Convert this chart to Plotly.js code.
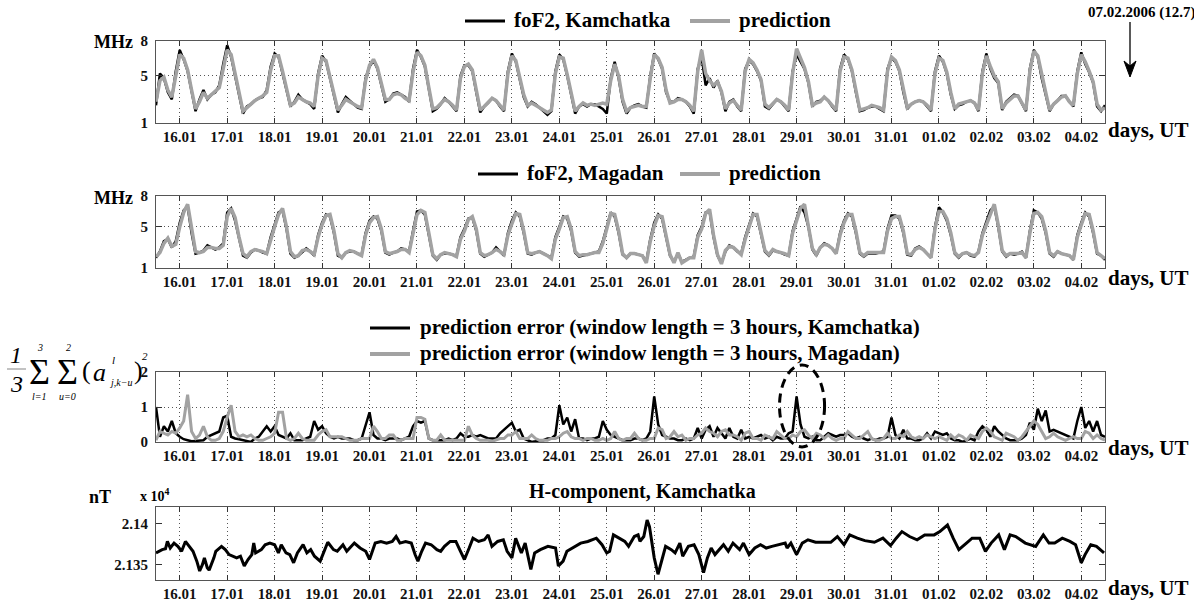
<!DOCTYPE html>
<html>
<head>
<meta charset="utf-8">
<script src="https://cdn.plot.ly/plotly-3.0.1.min.js"></script>
<style>html,body{margin:0;padding:0;background:#fff;}#chart{width:1194px;height:608px;}</style>
</head>
<body>
<div id="chart"></div>
<script>
// ---------- DATA ----------
const dayLabels = ['16.01','17.01','18.01','19.01','20.01','21.01','22.01','23.01','24.01','25.01',
                   '26.01','27.01','28.01','29.01','30.01','31.01','01.02','02.02','03.02','04.02'];
// time axis: days since 16.01 00:00 UT; all series start at 15.01 12:00 UT, 2-hour samples
const startDay = -0.5;

// foF2 Kamchatka, MHz
const kamFoF2 = [2.5,5.2,4.8,3.6,3.0,5.4,
 7.2,6.4,5.4,3.6,2.0,3.0,3.8,3.0,3.4,3.6,4.2,6.0,
 7.6,6.6,5.0,3.6,1.8,2.4,2.6,2.9,3.1,3.2,3.8,5.8,
 6.9,6.6,5.2,3.8,2.4,2.8,3.4,3.0,2.8,2.6,2.2,5.2,
 6.7,6.2,4.8,3.2,1.9,2.6,3.2,2.9,2.6,2.3,2.2,4.8,
 5.8,6.3,5.6,4.2,2.8,3.0,3.5,3.6,3.4,3.2,2.8,5.6,
 7.2,6.6,5.8,3.8,2.0,2.2,2.6,3.1,2.8,2.4,2.0,5.0,
 5.9,5.9,5.4,3.6,1.9,2.4,2.7,3.1,2.9,2.4,2.0,5.4,
 6.9,6.2,4.8,3.2,2.4,2.8,2.6,2.3,2.0,1.7,2.0,5.4,
 6.8,6.4,5.0,3.4,1.8,2.4,2.6,2.4,2.6,2.6,2.4,2.2,
 1.8,4.8,6.2,4.8,2.8,1.8,2.3,2.5,2.6,2.4,2.3,5.0,
 6.9,6.4,5.6,3.6,2.8,2.8,3.1,3.0,2.8,2.4,1.8,5.6,
 6.6,4.2,4.8,4.0,4.6,3.6,2.0,2.8,3.0,2.4,2.0,5.6,
 6.3,6.0,5.4,4.6,2.4,2.2,2.6,3.0,2.8,2.4,2.0,5.4,
 6.8,6.2,5.6,4.4,2.4,2.8,2.9,3.2,2.9,2.4,2.0,5.6,
 6.8,6.4,5.4,3.6,2.0,2.1,2.3,2.4,2.4,2.2,2.0,5.6,
 6.5,6.2,5.4,3.6,2.2,2.6,2.8,2.9,2.8,2.4,2.0,5.4,
 6.7,6.2,5.2,3.4,2.2,2.5,2.6,2.8,2.9,2.7,2.0,5.4,
 6.9,5.6,4.8,4.4,2.1,2.8,3.1,3.4,3.3,2.6,2.0,5.6,
 7.2,6.6,4.8,3.4,2.0,2.6,2.9,3.3,3.3,2.8,2.4,5.4,
 7.0,6.0,5.3,4.4,2.4,2.0,2.5];
// prediction for Kamchatka, MHz
const kamPred = [2.8,4.6,4.9,3.8,3.2,5.0,
 6.8,6.5,5.5,3.8,2.2,2.8,3.6,3.1,3.4,3.7,4.0,5.6,
 7.2,6.8,5.2,3.8,2.0,2.3,2.6,2.9,3.1,3.3,3.6,5.5,
 6.7,6.7,5.4,3.9,2.5,2.7,3.2,3.0,2.8,2.7,2.4,5.0,
 6.5,6.3,5.0,3.4,2.1,2.5,3.0,2.8,2.6,2.4,2.3,4.6,
 5.9,6.4,5.7,4.4,3.0,3.0,3.4,3.5,3.4,3.1,2.9,5.3,
 7.0,6.7,5.9,4.0,2.2,2.3,2.7,3.0,2.8,2.5,2.1,4.8,
 5.8,6.0,5.5,3.8,2.1,2.4,2.7,3.1,2.9,2.5,2.1,5.2,
 6.7,6.3,5.0,3.4,2.5,2.7,2.5,2.3,2.1,1.9,2.1,5.2,
 6.6,6.5,5.1,3.6,2.0,2.4,2.7,2.5,2.6,2.5,2.6,2.7,
 2.6,4.6,6.0,5.0,3.0,2.0,2.3,2.4,2.5,2.4,2.4,4.8,
 6.8,6.5,5.7,3.8,2.7,2.8,3.0,3.0,2.8,2.5,2.0,5.4,
 7.2,5.2,4.6,4.2,4.5,3.7,2.2,2.7,2.9,2.5,2.1,5.4,
 6.4,6.1,5.5,4.7,2.6,2.3,2.6,3.0,2.8,2.5,2.1,5.2,
 7.3,6.4,5.7,4.5,2.5,2.7,2.8,3.2,2.9,2.5,2.1,5.4,
 6.6,6.5,5.5,3.8,2.1,2.2,2.3,2.5,2.4,2.3,2.1,5.4,
 6.6,6.3,5.5,3.7,2.3,2.6,2.8,2.9,2.8,2.5,2.1,5.2,
 6.5,6.3,5.3,3.6,2.2,2.6,2.7,2.8,2.9,2.7,2.1,5.2,
 6.7,5.8,5.0,4.5,2.2,2.7,3.0,3.3,3.3,2.7,2.1,5.4,
 7.1,6.7,5.0,3.6,2.1,2.6,2.9,3.2,3.3,2.8,2.5,5.2,
 6.8,6.2,5.4,4.5,2.6,2.1,2.3];
// foF2 Magadan, MHz
const magFoF2 = [2.0,2.6,3.6,3.8,3.0,3.6,
 5.4,6.6,7.0,4.4,2.4,2.5,2.7,3.2,3.0,2.8,3.0,3.4,
 6.4,6.8,5.6,3.8,2.2,2.0,2.5,2.8,2.7,2.5,2.4,4.0,
 5.2,6.4,6.6,4.8,2.4,2.0,2.2,2.6,2.9,2.6,2.2,4.2,
 5.4,6.2,6.0,4.4,2.2,2.0,2.5,2.6,2.6,2.4,2.3,4.4,
 5.6,6.0,5.8,4.6,2.5,2.3,2.5,2.6,2.9,2.8,2.6,4.6,
 6.5,6.6,6.2,4.2,2.2,1.8,2.3,2.4,2.4,2.3,2.2,4.0,
 4.8,5.8,5.9,4.6,2.4,2.1,2.3,2.5,3.0,2.6,2.2,4.4,
 5.6,6.4,6.0,4.4,2.4,2.3,2.5,2.6,2.4,2.2,2.0,4.0,
 5.0,6.0,5.8,4.6,2.5,2.1,2.2,2.3,2.4,2.5,2.6,3.6,
 5.0,6.4,6.0,4.4,2.3,2.0,2.4,2.4,2.3,2.2,1.6,3.8,
 5.4,6.2,5.8,4.0,2.2,1.6,2.4,1.6,1.8,2.0,2.1,4.2,
 5.0,6.4,6.5,4.0,2.2,1.5,2.6,3.2,3.0,2.6,2.4,4.0,
 5.2,6.3,6.0,4.4,2.6,2.2,2.7,2.6,2.5,2.3,2.2,4.6,
 5.8,7.0,6.4,5.0,2.8,2.2,3.0,3.4,3.2,2.9,2.4,4.4,
 5.6,6.3,6.0,4.4,2.4,2.1,2.4,2.4,2.4,2.5,2.6,4.8,
 6.1,6.1,5.8,4.4,2.3,2.2,2.9,3.1,2.8,2.4,2.0,5.0,
 6.9,6.4,5.6,4.2,2.4,2.0,2.4,2.5,2.2,2.1,2.6,4.4,
 5.4,6.6,7.0,5.0,2.6,2.1,2.4,2.3,2.4,2.6,2.0,4.6,
 6.6,6.4,5.8,4.4,2.4,2.1,2.6,2.4,2.3,2.2,1.8,4.2,
 5.4,6.4,6.0,4.4,2.4,2.2,1.8];
// prediction for Magadan, MHz
const magPred = [2.1,2.5,3.4,3.9,3.1,3.3,
 5.0,6.4,7.2,4.8,2.6,2.5,2.6,3.0,3.0,2.9,2.9,3.2,
 6.0,6.8,5.9,4.0,2.4,2.1,2.6,2.8,2.7,2.6,2.4,3.8,
 5.0,6.2,6.8,5.0,2.6,2.1,2.2,2.7,2.8,2.6,2.3,4.0,
 5.2,6.1,6.2,4.6,2.4,2.0,2.5,2.7,2.6,2.4,2.2,4.2,
 5.4,5.9,6.0,4.8,2.6,2.4,2.5,2.6,2.8,2.8,2.5,4.4,
 6.2,6.6,6.4,4.4,2.3,1.9,2.3,2.5,2.4,2.3,2.1,3.8,
 4.6,5.7,6.0,4.8,2.5,2.2,2.3,2.5,2.8,2.6,2.3,4.2,
 5.3,6.3,6.2,4.6,2.5,2.4,2.5,2.6,2.4,2.2,1.9,3.8,
 4.8,5.9,6.0,4.8,2.6,2.2,2.3,2.3,2.4,2.5,2.5,3.4,
 4.8,6.3,6.2,4.6,2.4,2.0,2.4,2.4,2.3,2.2,1.5,3.6,
 5.1,6.1,6.0,4.2,2.3,1.5,2.5,1.5,1.8,2.0,2.0,4.0,
 4.8,6.3,6.7,4.2,2.3,1.4,2.7,3.1,3.0,2.6,2.3,3.8,
 5.0,6.2,6.2,4.6,2.7,2.3,2.8,2.6,2.5,2.4,2.2,4.4,
 5.6,6.8,7.2,5.2,2.9,2.3,3.0,3.3,3.2,2.9,2.4,4.2,
 5.4,6.2,6.2,4.6,2.5,2.2,2.5,2.5,2.5,2.5,2.5,4.6,
 5.8,6.0,6.0,4.6,2.4,2.3,2.8,3.0,2.8,2.4,2.0,4.8,
 6.5,6.5,5.8,4.4,2.5,2.1,2.4,2.5,2.3,2.2,2.5,4.2,
 5.2,6.4,7.2,5.2,2.7,2.2,2.4,2.4,2.4,2.5,2.0,4.4,
 6.3,6.4,6.0,4.6,2.5,2.2,2.6,2.4,2.3,2.2,1.8,4.0,
 5.2,6.3,6.2,4.6,2.5,2.2,1.9];

// prediction error (window length = 3 hours)
const kamErr = [1.0,0.15,0.45,0.3,0.6,0.25,
 0.15,0.08,0.05,0.02,0.03,0.05,0.05,0.15,0.2,0.25,0.3,0.7,
 0.75,0.15,0.1,0.08,0.05,0.02,0.0,0.1,0.15,0.3,0.45,0.3,
 0.45,0.2,0.15,0.1,0.25,0.05,0.05,0.05,0.1,0.15,0.6,0.35,
 0.45,0.25,0.15,0.1,0.15,0.1,0.1,0.1,0.05,0.05,0.1,0.5,
 0.85,0.2,0.1,0.1,0.05,0.1,0.1,0.1,0.05,0.1,0.15,0.45,
 0.6,0.55,0.6,0.1,0.05,0.05,0.05,0.05,0.1,0.05,0.1,0.25,
 0.15,0.15,0.2,0.15,0.2,0.15,0.1,0.1,0.1,0.25,0.35,0.45,
 0.55,0.3,0.35,0.1,0.05,0.0,0.02,0.05,0.05,0.1,0.1,0.2,
 1.05,0.5,0.7,0.3,0.65,0.1,0.1,0.05,0.1,0.1,0.15,0.6,
 0.35,0.2,0.15,0.1,0.05,0.05,0.05,0.1,0.1,0.05,0.1,0.3,
 1.3,0.5,0.2,0.15,0.1,0.1,0.05,0.05,0.1,0.05,0.1,0.4,
 0.1,0.35,0.45,0.15,0.4,0.25,0.1,0.4,0.15,0.1,0.35,0.1,
 0.15,0.1,0.15,0.2,0.1,0.15,0.05,0.15,0.1,0.1,0.25,0.3,
 1.3,0.5,0.15,0.1,0.15,0.05,0.05,0.15,0.25,0.2,0.15,0.2,
 0.2,0.25,0.15,0.1,0.15,0.1,0.05,0.1,0.05,0.1,0.1,0.15,
 0.7,0.2,0.1,0.35,0.1,0.1,0.05,0.05,0.1,0.25,0.1,0.3,
 0.25,0.2,0.25,0.1,0.05,0.05,0.0,0.05,0.1,0.05,0.3,0.45,
 0.35,0.15,0.45,0.3,0.2,0.1,0.05,0.05,0.05,0.1,0.2,0.55,
 0.35,0.95,0.6,0.9,0.3,0.35,0.3,0.25,0.2,0.15,0.1,0.6,
 1.0,0.4,0.6,0.3,0.6,0.2,0.15];
const magErr = [0.05,0.3,0.25,0.2,0.3,0.25,
 0.4,0.6,1.35,0.3,0.1,0.2,0.45,0.15,0.05,0.05,0.1,0.3,
 0.7,1.05,0.3,0.15,0.2,0.15,0.2,0.1,0.05,0.05,0.1,0.15,
 0.25,0.85,0.85,0.1,0.05,0.1,0.25,0.1,0.05,0.05,0.05,0.2,
 0.3,0.35,0.15,0.15,0.15,0.15,0.1,0.05,0.05,0.05,0.1,0.1,
 0.1,0.45,0.3,0.1,0.1,0.2,0.2,0.05,0.05,0.1,0.1,0.1,
 0.7,0.7,0.65,0.1,0.05,0.05,0.2,0.05,0.05,0.05,0.05,0.05,
 0.05,0.45,0.2,0.1,0.05,0.05,0.05,0.02,0.05,0.1,0.1,0.2,
 0.2,0.3,0.1,0.1,0.1,0.2,0.1,0.05,0.05,0.05,0.1,0.1,
 0.15,0.25,0.3,0.15,0.1,0.1,0.05,0.1,0.1,0.05,0.05,0.1,
 0.05,0.1,0.3,0.1,0.05,0.1,0.1,0.25,0.1,0.05,0.05,0.1,
 0.1,0.4,0.35,0.1,0.15,0.3,0.15,0.2,0.05,0.1,0.1,0.2,
 0.25,0.4,0.3,0.25,0.15,0.3,0.35,0.2,0.2,0.15,0.05,0.25,
 0.3,0.1,0.1,0.05,0.2,0.15,0.1,0.3,0.2,0.1,0.1,0.2,
 0.15,0.3,0.35,0.2,0.1,0.25,0.2,0.1,0.2,0.1,0.05,0.1,
 0.1,0.3,0.2,0.1,0.1,0.2,0.3,0.1,0.05,0.05,0.1,0.25,
 0.1,0.1,0.2,0.15,0.3,0.15,0.1,0.15,0.1,0.2,0.15,0.1,
 0.15,0.1,0.05,0.2,0.1,0.2,0.15,0.05,0.2,0.15,0.1,0.3,
 0.4,0.3,0.15,0.1,0.05,0.25,0.2,0.15,0.05,0.15,0.3,0.45,
 0.6,0.5,0.3,0.1,0.15,0.25,0.15,0.1,0.05,0.1,0.15,0.1,
 0.1,0.3,0.25,0.1,0.2,0.1,0.05];

// H-component, Kamchatka: time (days since 16.01 00 UT) and value (nT)
const hTime = [-0.5,-0.37,-0.3,-0.26,-0.2,-0.12,-0.04,0.04,0.12,0.2,0.28,0.36,0.42,0.48,0.52,0.58,0.62,0.72,0.76,0.88,0.96,
 1.04,1.12,1.2,1.28,1.36,1.44,1.52,1.56,1.6,1.72,1.8,1.9,2.0,2.08,2.14,2.24,2.32,2.4,2.48,2.6,2.68,2.76,2.84,2.96,
 3.04,3.12,3.24,3.32,3.44,3.52,3.68,3.8,3.92,4.0,4.12,4.24,4.36,4.48,4.56,4.64,4.76,4.88,4.96,
 5.02,5.1,5.18,5.3,5.42,5.5,5.58,5.7,5.82,5.9,6.0,6.1,6.18,6.3,6.42,6.5,6.58,6.7,6.82,6.9,
 7.0,7.08,7.2,7.28,7.4,7.48,7.6,7.76,7.92,7.98,8.08,8.16,8.32,8.45,8.6,8.78,8.9,
 9.0,9.06,9.14,9.26,9.38,9.46,9.58,9.66,9.7,9.78,9.85,9.9,10.0,10.08,10.16,10.24,10.36,10.44,10.54,10.6,10.72,10.84,10.94,
 11.04,11.12,11.2,11.28,11.36,11.46,11.56,11.66,11.8,11.88,12.0,12.12,12.24,12.36,12.48,12.64,12.76,12.8,12.88,
 13.0,13.12,13.24,13.4,13.56,13.72,13.86,14.0,14.12,14.28,14.44,14.64,14.82,14.98,
 15.1,15.22,15.38,15.54,15.7,15.9,16.02,16.18,16.3,16.42,16.58,16.7,16.86,16.98,
 17.1,17.26,17.38,17.5,17.62,17.82,18.04,18.2,18.32,18.44,18.6,18.76,18.88,19.0,19.08,19.2,19.32,19.48];
const hValue = [21364,21368,21369,21378,21370,21376,21372,21366,21378,21372,21366,21354,21342,21350,21358,21346,21343,21358,21366,21372,21368,
 21362,21360,21358,21360,21348,21356,21362,21376,21364,21368,21374,21376,21374,21364,21374,21364,21362,21352,21364,21374,21364,21368,21360,21354,
 21366,21377,21368,21366,21374,21366,21376,21370,21366,21356,21376,21378,21376,21378,21384,21376,21378,21376,21362,
 21354,21366,21376,21374,21368,21366,21372,21378,21378,21368,21356,21370,21382,21378,21380,21386,21372,21378,21380,21366,
 21358,21382,21364,21376,21344,21364,21368,21372,21370,21348,21354,21366,21372,21376,21378,21382,21374,
 21364,21366,21386,21382,21378,21372,21384,21386,21378,21384,21404,21396,21358,21338,21354,21372,21368,21364,21376,21360,21372,21374,21362,
 21340,21358,21370,21362,21368,21374,21366,21376,21368,21376,21362,21370,21374,21370,21372,21374,21376,21370,21376,
 21362,21376,21380,21377,21377,21377,21384,21374,21386,21382,21379,21377,21382,21373,
 21382,21390,21384,21380,21386,21386,21390,21398,21382,21368,21376,21382,21382,21366,
 21376,21386,21368,21386,21384,21376,21372,21386,21376,21376,21382,21378,21374,21352,21362,21374,21372,21364];

// legend texts
const legendNames = {
  kam: 'foF2, Kamchatka', mag: 'foF2, Magadan', pred: 'prediction',
  errKam: 'prediction error (window length = 3 hours, Kamchatka)',
  errMag: 'prediction error (window length = 3 hours, Magadan)'
};

// ---------- HELPERS ----------
const W = 1194, H = 608;
const FONT = 'Liberation Serif, Times New Roman, serif';
const GRAY = '#a2a2a2';
const dayTicks = dayLabels.map((_, i) => i);
const t2h = kamFoF2.map((_, i) => startDay + i / 12);
const xRange = [-0.5, 19.5];
const xDom = [156 / W, 1105 / W];
const panels = [{top: 40.5, bot: 123}, {top: 196, bot: 268}, {top: 372, bot: 442}, {top: 507, bot: 580}];
const yDom = p => [1 - p.bot / H, 1 - p.top / H];
const PX = v => v / W, PY = v => 1 - v / H;

const tickFont = {family: FONT, size: 15, color: '#111', weight: 'bold'};
function mkX(anchor) {
  return {domain: xDom, range: xRange, anchor: anchor, tickmode: 'array', tickvals: dayTicks, ticktext: dayLabels,
    ticks: 'inside', ticklen: 5, tickwidth: 1, tickcolor: '#333', showline: true, linecolor: '#555', linewidth: 1,
    mirror: 'ticks', showgrid: true, gridcolor: '#555', griddash: '1px,3px', gridwidth: 1, zeroline: false,
    tickfont: tickFont, ticklabelstandoff: 0, fixedrange: true};
}
function mkY(anchor, p, range, vals, texts, grid) {
  return {domain: yDom(p), range: range, anchor: anchor, tickmode: 'array', tickvals: vals, ticktext: texts,
    ticks: 'inside', ticklen: 6, tickwidth: 1, tickcolor: '#333', showline: true, linecolor: '#555', linewidth: 1,
    mirror: 'ticks', showgrid: grid, gridcolor: '#555', griddash: '1px,3px', gridwidth: 1, zeroline: false,
    tickfont: tickFont, ticklabelstandoff: 4, fixedrange: true};
}

const traces = [
  {x: t2h, y: kamFoF2, xaxis: 'x', yaxis: 'y', mode: 'lines', line: {color: '#000', width: 2.5}, name: legendNames.kam},
  {x: t2h, y: kamPred, xaxis: 'x', yaxis: 'y', mode: 'lines', line: {color: GRAY, width: 3.5}, name: legendNames.pred},
  {x: t2h, y: magFoF2, xaxis: 'x2', yaxis: 'y2', mode: 'lines', line: {color: '#000', width: 2.5}, name: legendNames.mag},
  {x: t2h, y: magPred, xaxis: 'x2', yaxis: 'y2', mode: 'lines', line: {color: GRAY, width: 3.5}, name: legendNames.pred},
  {x: t2h, y: kamErr, xaxis: 'x3', yaxis: 'y3', mode: 'lines', line: {color: '#000', width: 2.5}, name: legendNames.errKam},
  {x: t2h, y: magErr, xaxis: 'x3', yaxis: 'y3', mode: 'lines', line: {color: GRAY, width: 3}, name: legendNames.errMag},
  {x: hTime, y: hValue.map(v => v / 1e4), xaxis: 'x4', yaxis: 'y4', mode: 'lines', line: {color: '#000', width: 3}, name: 'H-component, Kamchatka'}
];

const ann = [];
const shapes = [];
function A(text, x, y, font, xanchor, extra) {
  ann.push(Object.assign({text: text, x: PX(x), y: PY(y), xref: 'paper', yref: 'paper', showarrow: false,
    xanchor: xanchor || 'center', yanchor: 'middle', font: font}, extra || {}));
}
function L(x0, x1, y0, y1, color, width) {
  shapes.push({type: 'line', xref: 'paper', yref: 'paper', x0: PX(x0), x1: PX(x1), y0: PY(y0), y1: PY(y1),
    line: {color: color, width: width}});
}
// legends (line sample + text)
const legFont = {family: FONT, size: 21, color: '#000', weight: 'bold'};
L(465, 505, 21, 21, '#000', 3); A(legendNames.kam, 512, 20, legFont, 'left');
L(690, 730, 21, 21, GRAY, 4); A(legendNames.pred, 737, 20, legFont, 'left');
L(478, 518, 174, 174, '#000', 3); A(legendNames.mag, 525, 173, legFont, 'left');
L(680, 720, 174, 174, GRAY, 4); A(legendNames.pred, 727, 173, legFont, 'left');
L(370, 410, 328, 328, '#000', 3); A(legendNames.errKam, 418, 327, legFont, 'left');
L(370, 410, 354, 354, GRAY, 4); A(legendNames.errMag, 418, 353, legFont, 'left');

const side = {family: FONT, size: 18, color: '#000', weight: 'bold'};
A('MHz', 135, 42, side, 'right');
A('MHz', 135, panels[1].top + 2, side, 'right');
[130, 278, 448, 588].forEach(y => A('days, UT', 1106, y, {family: FONT, size: 21, color: '#000', weight: 'bold'}, 'left'));
A('nT', 113, 497, side, 'right');
A('x 10<sup>4</sup>', 138, 495, {family: FONT, size: 14, color: '#000', weight: 'bold'}, 'left');
A('H-component, Kamchatka', 642, 491, {family: FONT, size: 20, color: '#000', weight: 'bold'});
A('07.02.2006 (12.7)', 1142, 12, {family: FONT, size: 15, color: '#000', weight: 'bold'});
// arrow under the date
L(1130, 1130, 22, 70, '#000', 1.3);
shapes.push({type: 'path', xref: 'paper', yref: 'paper',
  path: 'M' + PX(1124) + ',' + PY(61) + ' L' + PX(1130) + ',' + PY(77) + ' L' + PX(1136) + ',' + PY(61) + ' L' + PX(1130) + ',' + PY(66) + ' Z',
  fillcolor: '#000', line: {color: '#000', width: 1}});

// formula (1/3) sum_{l=1}^{3} sum_{u=0}^{2} (a^l_{j,k-u})^2
const fi = (s) => ({family: FONT, size: s, color: '#000'});
A('<i>1</i>', 16, 355, fi(24));
A('<i>3</i>', 16, 384, fi(24));
L(7, 26, 369, 369, '#999', 1.2);
A('Σ', 39, 372, fi(36));
A('<i>3</i>', 40, 348, fi(10));
A('<i>l=1</i>', 39, 396, fi(10));
A('Σ', 67, 372, fi(36));
A('<i>2</i>', 68, 348, fi(10));
A('<i>u=0</i>', 67, 396, fi(10));
A('(', 86, 370, fi(26));
A('<i>a</i>', 99, 372, fi(26));
A('<i>l</i>', 113, 360, fi(11));
A('<i>j,k−u</i>', 120, 382, fi(10));
A(')', 138, 370, fi(26));
A('<i>2</i>', 145, 356, fi(11));

// dashed ellipse around the 29.01 event (data coords -> paper)
const ellDays = [12.64, 13.59], ellVals = [-0.14, 2.2];
const xp = d => xDom[0] + (d - xRange[0]) / (xRange[1] - xRange[0]) * (xDom[1] - xDom[0]);
const y3d = yDom(panels[2]);
const yp = v => y3d[0] + v / 2 * (y3d[1] - y3d[0]);
shapes.push({type: 'circle', xref: 'paper', yref: 'paper', x0: xp(ellDays[0]), x1: xp(ellDays[1]), y0: yp(ellVals[0]), y1: yp(ellVals[1]),
  line: {color: '#000', width: 3, dash: '9px,6px'}});

const layout = {
  width: W, height: H, margin: {l: 0, r: 0, t: 0, b: 0}, paper_bgcolor: '#fff', plot_bgcolor: '#fff',
  font: {family: FONT, color: '#000'}, showlegend: false,
  xaxis: mkX('y'), xaxis2: mkX('y2'), xaxis3: mkX('y3'), xaxis4: mkX('y4'),
  yaxis: mkY('x', panels[0], [1, 8], [1, 5, 8], ['1', '5', '8'], true),
  yaxis2: mkY('x2', panels[1], [1, 8], [1, 5, 8], ['1', '5', '8'], true),
  yaxis3: mkY('x3', panels[2], [0, 2], [0, 1, 2], ['0', '1', '2'], true),
  yaxis4: mkY('x4', panels[3], [2.1331, 2.142], [2.135, 2.14], ['2.135', '2.14'], false),
  annotations: ann, shapes: shapes
};

Plotly.newPlot('chart', traces, layout, {staticPlot: true, displayModeBar: false});
</script>
</body>
</html>
